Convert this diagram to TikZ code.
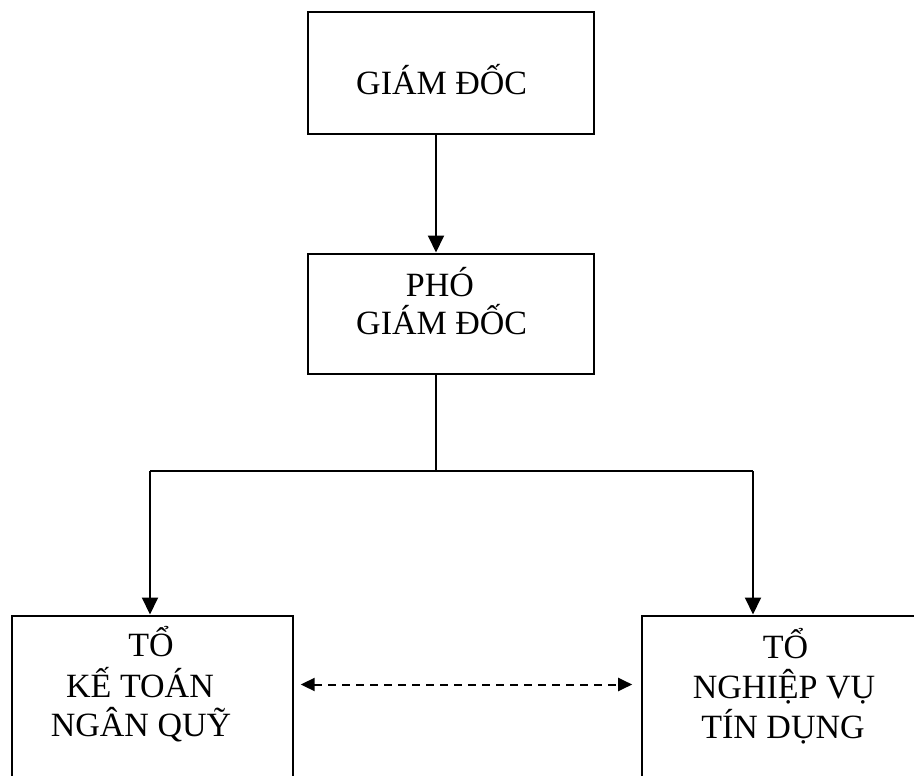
\documentclass[tikz,border=0pt]{standalone}
\usepackage{fontspec}
\setmainfont{Liberation Serif}
\usetikzlibrary{arrows.meta}
\begin{document}
\begin{tikzpicture}[x=1pt,y=-1pt,
  box/.style={draw,line width=2pt,rectangle,inner sep=0pt},
  lbl/.style={anchor=base,inner sep=0pt,font=\fontsize{34}{40}\selectfont},
  arr/.style={line width=2pt,-{Triangle[length=17pt,width=16pt]}},
  conn/.style={line width=1.8pt},
  dasharr/.style={line width=2pt,dash pattern=on 8pt off 6pt,{Triangle[length=14pt,width=13pt]}-{Triangle[length=14pt,width=13pt]}}]
\useasboundingbox (0,0) rectangle (914,776);
\clip (0,0) rectangle (914,776);
\fill[white] (0,0) rectangle (914,776);
% boxes
\node[box,minimum width=286pt,minimum height=122pt] (b1) at (451,73) {};
\node[box,minimum width=286pt,minimum height=120.5pt] (b2) at (451,313.75) {};
\node[box,minimum width=281pt,minimum height=184.5pt] (lb) at (152.2,707.75) {};
\node[box,minimum width=298.3pt,minimum height=184.5pt] (rb) at (790.85,707.75) {};
% texts
\node[lbl] (t1) at (441.7,95) {GIÁM ĐỐC};
\node[lbl] (t2a) at (440,296.7) {PHÓ};
\node[lbl] (t2b) at (441.7,334) {GIÁM ĐỐC};
\node[lbl] (t3a) at (151,656.7) {TỔ};
\node[lbl] (t3b) at (140,697) {KẾ TOÁN};
\node[lbl] (t3c) at (141,736.7) {NGÂN QUỸ};
\node[lbl] (t4a) at (785.5,658) {TỔ};
\node[lbl] (t4b) at (784,698) {NGHIỆP VỤ};
\node[lbl] (t4c) at (783,738) {TÍN DỤNG};
% coordinates
\coordinate (spine) at (436,471);
\coordinate (lx) at (150,471);
\coordinate (rx) at (753,471);
\coordinate (dy) at (0,684.5);
% connectors
\draw[arr] (b1.south -| spine) -- (b2.north -| spine);
\draw[conn] (b2.south -| spine) -- (spine);
\draw[conn] (lx) -- (rx);
\draw[arr] (lx) -- (lb.north -| lx);
\draw[arr] (rx) -- (rb.north -| rx);
\draw[dasharr,shorten <=7pt,shorten >=8.5pt] (lb.east |- dy) -- (rb.west |- dy);
\end{tikzpicture}
\end{document}
